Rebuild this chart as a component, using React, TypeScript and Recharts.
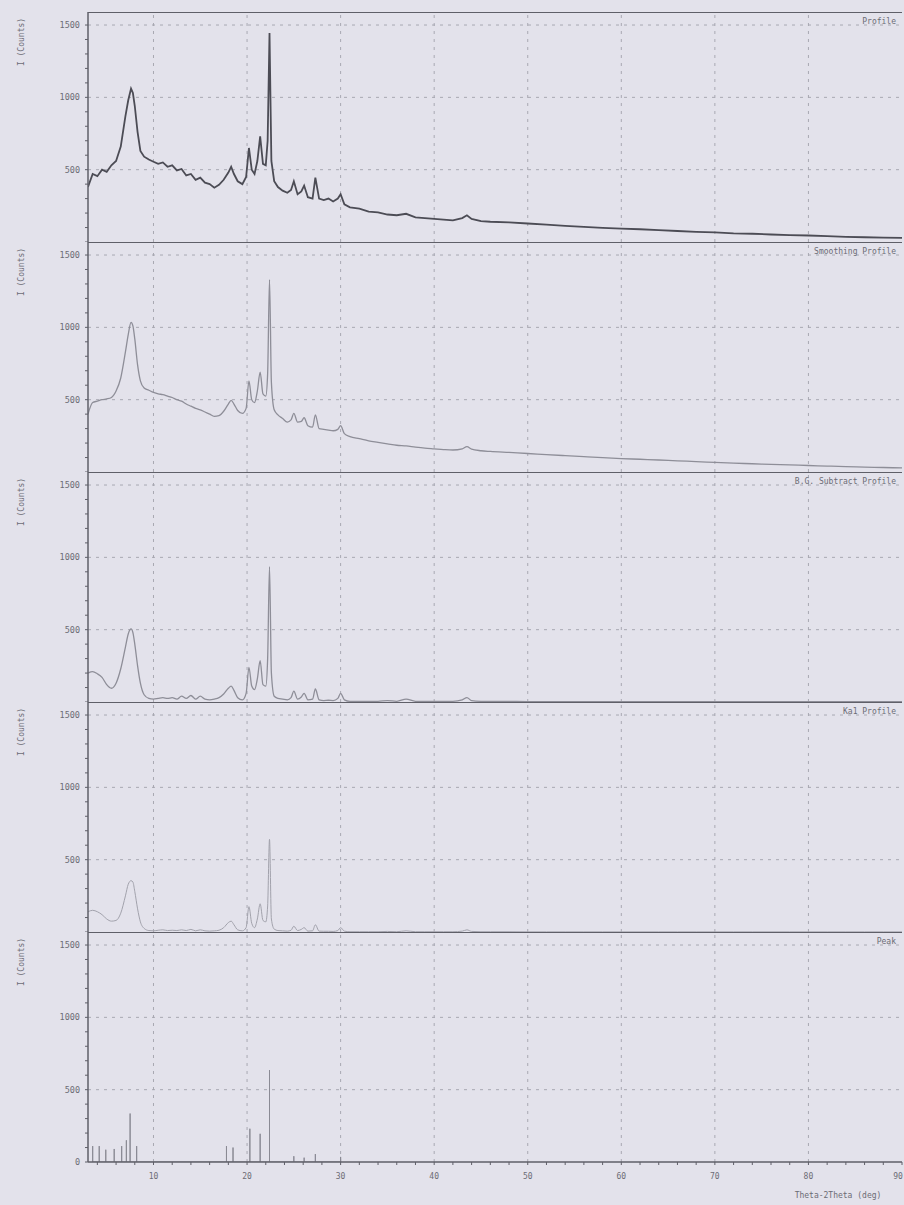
import React from "react";
import { LineChart, Line, XAxis, YAxis, ReferenceLine, Label } from "recharts";

// 2theta positions shared by the four profile traces (denser around the reflections)
const thetaGrid = [
  3.0, 3.5, 4.0, 4.5, 5.0, 5.5, 6.0, 6.5, 7.0, 7.3, 7.6, 7.8, 8.0, 8.3, 8.6, 9.0, 9.5, 10, 10.5, 11,
  11.5, 12, 12.5, 13, 13.5, 14, 14.5, 15, 15.5, 16, 16.5, 17, 17.5, 18, 18.3, 18.6, 19, 19.5, 19.9, 20.2,
  20.5, 20.8, 21.1, 21.4, 21.7, 22.0, 22.2, 22.4, 22.6, 22.9, 23.3, 23.8, 24.3, 24.7, 25.0, 25.4, 25.8, 26.1, 26.5, 27.0,
  27.3, 27.7, 28.2, 28.7, 29.2, 29.7, 30.0, 30.4, 31, 32, 33, 34, 35, 36, 37, 38, 39, 40, 41, 42,
  43, 43.5, 44, 45, 46, 48, 50, 52, 54, 56, 58, 60, 62, 64, 66, 68, 70, 72, 74, 76,
  78, 80, 82, 84, 86, 88, 90,
];

const profileCounts = [
  380, 470, 455, 500, 485, 530, 560, 660, 870, 980, 1060, 1030, 940, 760, 630, 590, 570, 555, 540, 550,
  520, 530, 495, 505, 460, 470, 430, 445, 410, 400, 375, 395, 430, 480, 520, 470, 420, 400, 450, 650,
  500, 470, 560, 730, 540, 530, 700, 1445, 560, 420, 380, 355, 340, 360, 420, 330, 350, 390, 310, 300,
  445, 300, 290, 300, 280, 300, 330, 260, 240, 230, 210, 205, 190, 185, 195, 170, 165, 160, 155, 150,
  165, 185, 160, 145, 140, 135, 128, 120, 112, 105, 98, 92, 88, 82, 76, 70, 66, 60, 57, 52,
  48, 45, 40, 36, 33, 30, 28,
];

const smoothingCounts = [
  400, 480, 490, 500, 505, 515, 560, 650, 830, 950, 1035, 1010, 920, 740, 630, 580, 565, 550, 540, 535,
  525, 515, 500, 490, 470, 455, 440, 430, 415, 400, 385, 390, 420, 470, 495, 470, 425, 405, 440, 630,
  500, 480, 560, 690, 540, 525, 680, 1330, 620, 430, 395, 370, 345, 360, 405, 345, 350, 375, 320, 310,
  395, 300, 295, 290, 285, 295, 320, 265, 245, 230, 215, 205, 195, 185, 180, 172, 165, 160, 155, 152,
  160, 175, 158, 147, 142, 135, 128, 120, 113, 106, 99, 93, 88, 83, 77, 72, 66, 61, 57, 53,
  49, 45, 41, 37, 34, 31, 28,
];

const bgSubtractCounts = [
  200, 210, 195, 170, 120, 95, 130, 230, 380, 470, 505, 480, 400, 250, 130, 50, 25, 20, 25, 30,
  25, 30, 20, 40, 25, 45, 20, 40, 20, 15, 20, 30, 55, 95, 110, 80, 30, 15, 60, 240,
  110, 85, 160, 285, 120, 110, 300, 935, 200, 40, 25, 20, 15, 30, 75, 20, 35, 60, 15, 20,
  90, 15, 10, 12, 10, 25, 60, 15, 5, 5, 5, 5, 10, 5, 20, 5, 5, 5, 5, 5,
  15, 30, 10, 5, 4, 4, 3, 3, 3, 3, 2, 2, 2, 2, 2, 2, 2, 2, 2, 2,
  2, 2, 2, 2, 2, 2, 2,
];

const kaOneCounts = [
  140, 150, 140, 120, 90, 75, 80, 130, 250, 330, 355, 345, 280, 160, 70, 25, 10, 8, 12, 15,
  10, 12, 10, 15, 10, 18, 8, 15, 8, 6, 8, 12, 30, 65, 75, 50, 15, 8, 30, 175,
  60, 30, 90, 195, 80, 70, 180, 640, 90, 20, 10, 8, 6, 12, 40, 10, 18, 30, 6, 8,
  50, 6, 5, 5, 4, 10, 30, 6, 2, 2, 2, 2, 4, 2, 8, 2, 2, 2, 2, 2,
  6, 15, 4, 2, 2, 2, 1, 1, 1, 1, 1, 1, 1, 1, 1, 1, 1, 1, 1, 1,
  1, 1, 1, 1, 1, 1, 1,
];

// peak search result (stick pattern)
const peakTheta = [3.5, 4.2, 4.9, 5.8, 6.6, 7.1, 7.5, 8.2, 17.8, 18.5, 20.3, 21.4, 22.4, 25.0, 26.1, 27.3, 30.0];
const peakCounts = [110, 110, 85, 90, 110, 150, 335, 110, 110, 100, 230, 195, 635, 40, 30, 55, 35];

const panelTitles = ["Profile", "Smoothing Profile", "B.G. Subtract Profile", "Ka1 Profile", "Peak"];
const countLabels = [500, 1000, 1500];
const countGridLines = [500, 1000, 1500];
const thetaGridLines = [10, 20, 30, 40, 50, 60, 70, 80];
const thetaLabels = [10, 20, 30, 40, 50, 60, 70, 80, 90];

const Y_MAX = 1590;
const PANEL_H = 230;
const TOP = 12;
const AXIS_W = 88;
const WIDTH = 904;
const MONO = "'DejaVu Sans Mono', monospace";
const BG = "#e3e2eb";
const BORDER = "#5f5f68";
const GRID = "#a8a8b2";
const TEXT = "#6c6c75";

const minorCountTicks = Array.from({ length: 16 }, (_, i) => i * 100);
const minorThetaTicks = Array.from({ length: 44 }, (_, i) => 4 + i * 2);

const toRows = (counts: number[]) => thetaGrid.map((t, i) => ({ theta: t, counts: counts[i] }));

// each stick goes baseline -> height -> baseline so one Line can draw them all
const stemRows = peakTheta.flatMap((t, i) => [
  { theta: t, counts: 0 },
  { theta: t, counts: peakCounts[i] },
  { theta: t, counts: 0 },
]);

const panels = [
  { data: toRows(profileCounts), color: "#4c4c55", width: 1.8, curve: "linear" },
  { data: toRows(smoothingCounts), color: "#8e8e98", width: 1.3, curve: "monotone" },
  { data: toRows(bgSubtractCounts), color: "#8e8e98", width: 1.3, curve: "monotone" },
  { data: toRows(kaOneCounts), color: "#a2a2ac", width: 1, curve: "monotone" },
  { data: stemRows, color: "#8a8a94", width: 1, curve: "linear" },
];

function CountTick(props: any) {
  const { x, y, payload, withZero } = props;
  const v = payload.value as number;
  const show = countLabels.includes(v) || (withZero && v === 0);
  if (!show) return <g />;
  return (
    <text x={x} y={y} dy={3} textAnchor="end" fontSize={8.5} fontFamily={MONO} fill={TEXT}>
      {v}
    </text>
  );
}

function ThetaTick(props: any) {
  const { x, y, payload } = props;
  const v = payload.value as number;
  if (!thetaLabels.includes(v)) return <g />;
  return (
    <text x={v === 90 ? x - 4 : x} y={y} dy={12} textAnchor="middle" fontSize={8} fontFamily={MONO} fill={TEXT}>
      {v}
    </text>
  );
}

function Panel({ index }: { index: number }) {
  const p = panels[index];
  const last = index === panels.length - 1;
  const height = last ? PANEL_H + 45 : PANEL_H;
  return (
    <LineChart
      width={WIDTH}
      height={height}
      data={p.data}
      margin={{ top: 0, right: 2, left: 0, bottom: 0 }}
      style={{ position: "absolute", left: 0, top: TOP + index * PANEL_H }}
    >
      <XAxis
        dataKey="theta"
        type="number"
        domain={[3, 90]}
        allowDataOverflow
        hide={!last}
        height={last ? 45 : 0}
        ticks={minorThetaTicks}
        interval={0}
        tick={<ThetaTick />}
        tickSize={3}
        tickLine={{ stroke: BORDER }}
        axisLine={{ stroke: BORDER, strokeWidth: 1.5 }}
      >
        {last && (
          <Label
            content={() => (
              <text x={838} y={PANEL_H + 36} textAnchor="middle" fontSize={8} fontFamily={MONO} fill={TEXT}>
                Theta-2Theta (deg)
              </text>
            )}
          />
        )}
      </XAxis>
      <YAxis
        type="number"
        domain={[0, Y_MAX]}
        allowDataOverflow
        width={AXIS_W}
        ticks={minorCountTicks}
        interval={0}
        tick={<CountTick withZero={last} />}
        tickSize={3}
        tickMargin={5}
        tickLine={{ stroke: BORDER }}
        axisLine={{ stroke: BORDER, strokeWidth: 1.5 }}
      >
        <Label
          content={() => (
            <text
              transform={`translate(24, 30) rotate(-90)`}
              textAnchor="middle"
              fontSize={8}
              fontFamily={MONO}
              fill={TEXT}
            >
              I (Counts)
            </text>
          )}
        />
      </YAxis>
      {countGridLines.map((v) => (
        <ReferenceLine key={`h${v}`} y={v} stroke={GRID} strokeDasharray="3 5" />
      ))}
      {thetaGridLines.map((v) => (
        <ReferenceLine key={`v${v}`} x={v} stroke={GRID} strokeDasharray="3 5" />
      ))}
      <ReferenceLine
        y={Y_MAX}
        stroke={BORDER}
        strokeWidth={1.8}
        label={{
          value: panelTitles[index],
          position: "insideTopRight",
          offset: 6,
          fontSize: 8,
          fontFamily: MONO,
          fill: TEXT,
        }}
      />
      <Line
        dataKey="counts"
        type={p.curve as any}
        stroke={p.color}
        strokeWidth={p.width}
        dot={false}
        isAnimationActive={false}
      />
    </LineChart>
  );
}

export default function App() {
  return (
    <div
      style={{
        position: "absolute",
        left: 0,
        top: 0,
        width: WIDTH,
        height: 1205,
        background: BG,
        overflow: "hidden",
      }}
    >
      {panels.map((_, i) => (
        <Panel key={i} index={i} />
      ))}
    </div>
  );
}
